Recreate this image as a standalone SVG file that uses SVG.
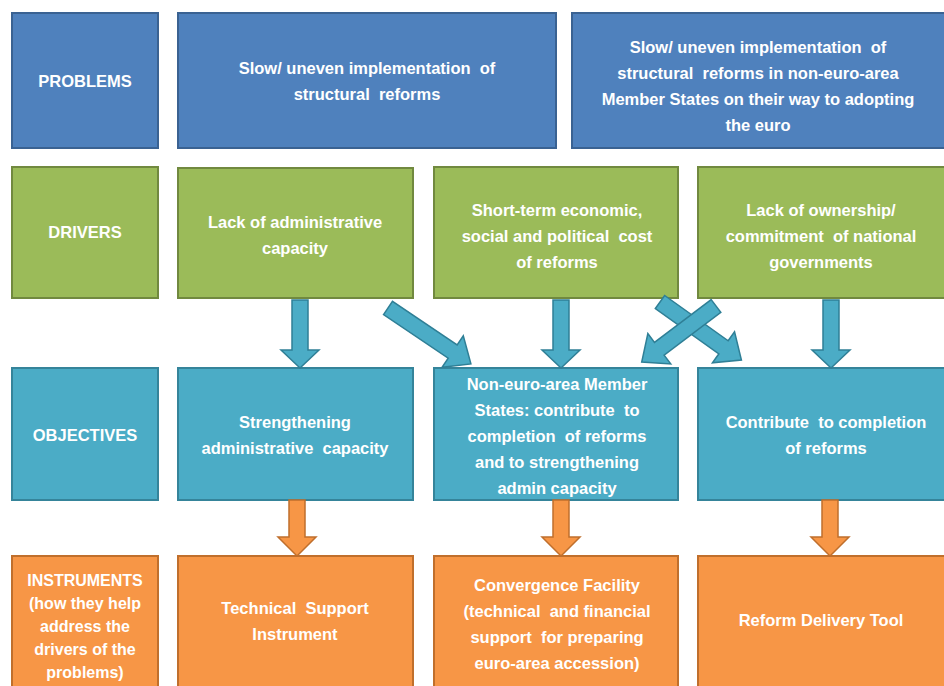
<svg xmlns="http://www.w3.org/2000/svg" width="944" height="686" viewBox="0 0 944 686">
<style>
text{font-family:"Liberation Sans",Arial,sans-serif;font-weight:bold;font-size:16.5px;fill:#fff;text-anchor:middle;white-space:pre}
.sm{font-size:16px}
.pb{fill:#4F81BD;stroke:#3A6292;stroke-width:2}
.dr{fill:#9BBB59;stroke:#71893F;stroke-width:2}
.ob{fill:#4BACC6;stroke:#35849A;stroke-width:2}
.in{fill:#F79646;stroke:#C06F2C;stroke-width:2}
.ba{fill:#4BACC6;stroke:#2F7F96;stroke-width:1.5}
.oa{fill:#F79646;stroke:#C06F2C;stroke-width:1.5}
</style>
<rect width="944" height="686" fill="#fff"/>
<g id="problems">
<rect class="pb" x="12" y="13" width="146" height="135"/>
<text x="85" y="87">PROBLEMS</text>
</g>
<g id="p1">
<rect class="pb" x="178" y="13" width="378" height="135"/>
<text x="367" y="74">Slow/ uneven implementation  of</text>
<text x="367" y="100">structural  reforms</text>
</g>
<g id="p2">
<rect class="pb" x="572" y="13" width="380" height="135"/>
<text x="758" y="53">Slow/ uneven implementation  of</text>
<text x="758" y="79">structural  reforms in non-euro-area</text>
<text x="758" y="105">Member States on their way to adopting</text>
<text x="758" y="131">the euro</text>
</g>
<g id="drivers">
<rect class="dr" x="12" y="167" width="146" height="131"/>
<text x="85" y="238">DRIVERS</text>
</g>
<g id="d1">
<rect class="dr" x="178" y="168" width="235" height="130"/>
<text x="295" y="228">Lack of administrative</text>
<text x="295" y="254">capacity</text>
</g>
<g id="d2">
<rect class="dr" x="434" y="167" width="244" height="131"/>
<text x="557" y="216">Short-term economic,</text>
<text x="557" y="242">social and political  cost</text>
<text x="557" y="268">of reforms</text>
</g>
<g id="d3">
<rect class="dr" x="698" y="167" width="254" height="131"/>
<text x="821" y="216">Lack of ownership/</text>
<text x="821" y="242">commitment  of national</text>
<text x="821" y="268">governments</text>
</g>
<g id="objectives">
<rect class="ob" x="12" y="368" width="146" height="132"/>
<text x="85" y="441">OBJECTIVES</text>
</g>
<g id="o1">
<rect class="ob" x="178" y="368" width="235" height="132"/>
<text x="295" y="428">Strengthening</text>
<text x="295" y="454">administrative  capacity</text>
</g>
<g id="o2">
<rect class="ob" x="434" y="368" width="244" height="132"/>
<text x="557" y="390">Non-euro-area Member</text>
<text x="557" y="416">States: contribute  to</text>
<text x="557" y="442">completion  of reforms</text>
<text x="557" y="468">and to strengthening</text>
<text x="557" y="494">admin capacity</text>
</g>
<g id="o3">
<rect class="ob" x="698" y="368" width="254" height="132"/>
<text x="826" y="428">Contribute  to completion</text>
<text x="826" y="454">of reforms</text>
</g>
<g id="instruments">
<rect class="in" x="12" y="556" width="146" height="140"/>
<text class="sm" x="85" y="586">INSTRUMENTS</text>
<text class="sm" x="85" y="609">(how they help</text>
<text class="sm" x="85" y="632">address the</text>
<text class="sm" x="85" y="655">drivers of the</text>
<text class="sm" x="85" y="678">problems)</text>
</g>
<g id="i1">
<rect class="in" x="178" y="556" width="235" height="140"/>
<text x="295" y="614">Technical  Support</text>
<text x="295" y="640">Instrument</text>
</g>
<g id="i2">
<rect class="in" x="434" y="556" width="244" height="140"/>
<text x="557" y="591">Convergence Facility</text>
<text x="557" y="617">(technical  and financial</text>
<text x="557" y="643">support  for preparing</text>
<text x="557" y="669">euro-area accession)</text>
</g>
<g id="i3">
<rect class="in" x="698" y="556" width="254" height="140"/>
<text x="821" y="626">Reform Delivery Tool</text>
</g>
<g id="connectors">
<polygon class="ba" points="292,300 308,300 308,350 319,350 300,368 281,350 292,350"/>
<polygon class="ba" points="553,300 569,300 569,350 580,350 561,368 542,350 553,350"/>
<polygon class="ba" points="823,300 839,300 839,350 850,350 831,368 812,350 823,350"/>
<polygon class="ba" transform="translate(388,308) rotate(-56)" points="-8,0 8,0 8,78 19,78 0,100 -19,78 -8,78"/>
<polygon class="ba" transform="translate(660,302) rotate(-54.5)" points="-8,0 8,0 8,78 19,78 0,100 -19,78 -8,78"/>
<polygon class="ba" transform="translate(716,306) rotate(53)" points="-8,0 8,0 8,71 19,71 0,93 -19,71 -8,71"/>
<polygon class="oa" points="289,500 305,500 305,537 316,537 297,556 278,537 289,537"/>
<polygon class="oa" points="553,500 569,500 569,537 580,537 561,556 542,537 553,537"/>
<polygon class="oa" points="822,500 838,500 838,537 849,537 830,556 811,537 822,537"/>
</g>
</svg>
